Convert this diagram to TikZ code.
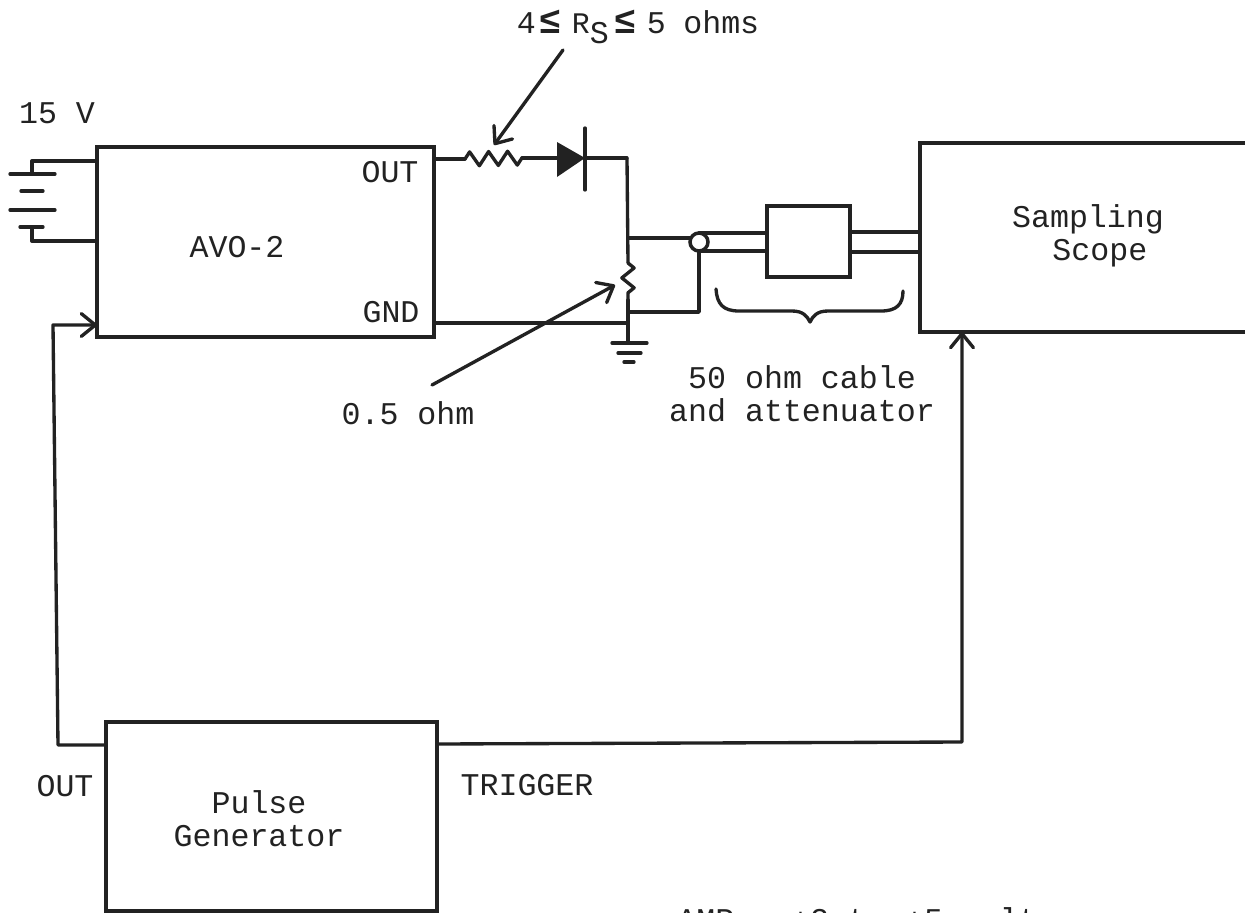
\documentclass[tikz,border=0pt]{standalone}
\usepackage{fontspec}
\setmainfont{Liberation Mono}
\usetikzlibrary{arrows.meta,decorations.pathmorphing}
\definecolor{ink}{HTML}{222222}
\tikzset{
    wire/.style={ink,line width=1.9pt,line cap=round,line join=round},
    unit/.style={draw=ink,line width=2.2pt,anchor=north west,inner sep=0pt,outer sep=0pt},
    txt/.style={ink,inner sep=0pt,font=\fontsize{18}{18.6}\selectfont,align=center},
    barb/.style={-{Straight Barb[length=8pt,width=13pt,line width=1.9pt,round]}},
    res/.style={decorate,decoration={zigzag,segment length=10.8pt,amplitude=4pt}},
    shunt/.style={decorate,decoration={zigzag,segment length=11.3pt,amplitude=3.5pt}}
}
\newcommand{\leqmark}{{\fontsize{21}{21}\selectfont\bfseries\symbol{"2264}}}
\begin{document}
\begin{tikzpicture}[x=0.02cm,y=-0.02cm]
    \path[use as bounding box,clip] (0,0) rectangle (1245,913);
    \fill[white] (0,0) rectangle (1245,913);
    % units
    \node[unit,minimum width=6.74cm,minimum height=3.8cm] (avo) at (97,147) {};
    \node[unit,minimum width=7cm,minimum height=3.78cm] (scope) at (920,143) {};
    \node[unit,minimum width=1.66cm,minimum height=1.42cm] (atten) at (767,206) {};
    \node[unit,minimum width=6.62cm,minimum height=3.78cm] (pulse) at (106,722) {};
    % battery
    \coordinate (battop) at (97,161);
    \coordinate (batbot) at (97,241);
    \draw[wire] (battop) -- (32,161) -- (32,174);
    \draw[wire] (10,174) -- (55,174);
    \draw[wire] (21,191) -- (43,191);
    \draw[wire] (10,210) -- (55,210);
    \draw[wire] (20,227) -- (43,227);
    \draw[wire] (32,227) -- (32,241) -- (batbot);
    % series resistor and diode
    \coordinate (outpin) at (434,159);
    \coordinate (rsa) at (465,159);
    \coordinate (rsb) at (522,158);
    \coordinate (dia) at (558,158);
    \coordinate (dib) at (585,158);
    \coordinate (top) at (627,158);
    \draw[wire] (outpin) -- (rsa);
    \draw[wire,res] (rsa) -- (rsb);
    \draw[wire] (rsb) -- (dia);
    \fill[ink] (557,142) -- (dib) -- (557,177) -- cycle;
    \draw[wire] (585,128) -- (585,190);
    \draw[wire] (dib) -- (top);
    % shunt resistor
    \coordinate (sha) at (628,263);
    \coordinate (shb) at (628,300);
    \coordinate (gndpin) at (434,323);
    \coordinate (gndpt) at (628,323);
    \coordinate (earth) at (628,343);
    \draw[wire] (top) -- (sha);
    \draw[wire,shunt] (sha) -- (shb);
    \draw[wire] (shb) -- (earth);
    \draw[wire] (gndpin) -- (gndpt);
    \draw[wire] (612,343) -- (647,343);
    \draw[wire] (618,353) -- (641,353);
    \draw[wire] (624,362) -- (634,362);
    % connector and cable
    \node[draw=ink,line width=2pt,circle,minimum size=0.36cm,inner sep=0pt,outer sep=0pt] (conn) at (699,242) {};
    \draw[wire] (628,238) -- (conn.west |- 0,238);
    \draw[wire] (628,312) -- (699,312) -- (conn.south);
    \draw[wire] (conn.north) -- (atten.west |- conn.north);
    \draw[wire] (conn.south) -- (atten.west |- conn.south);
    \draw[wire] (atten.east |- 0,232) -- (scope.west |- 0,232);
    \draw[wire] (atten.east |- 0,252) -- (scope.west |- 0,252);
    \draw[wire] (716,289) .. controls (717,304) and (723,311) .. (739,311)
        -- (792,311) .. controls (803,311) and (807,316) .. (810,322)
        .. controls (813,316) and (817,311) .. (828,311)
        -- (881,311) .. controls (897,311) and (903,304) .. (903,291);
    % trigger lines
    \draw[wire,barb] (pulse.west |- 0,745) -- (58,745) -- (53,325) -- (avo.west |- 0,325);
    \draw[wire,barb] (pulse.east |- 0,744) -- (962,742) -- (scope.south -| 962,0);
    % pointers
    \coordinate (rsfrom) at (563,50);
    \coordinate (rsto) at (494,145);
    \coordinate (shfrom) at (432,385);
    \coordinate (shto) at (615,285);
    \draw[wire,barb] (rsfrom) -- (rsto);
    \draw[wire,barb] (shfrom) -- (shto);
    % labels
    \node[txt] (rslabel) at (638,27) {4\hspace{2pt}\leqmark\hspace{6pt}{\fontsize{17}{18}\selectfont R}\raisebox{-0.3em}{S}\hspace{3pt}\leqmark\hspace{6pt}5\hspace{10pt}ohms};
    \node[txt] (batlabel) at (57,113) {15 V};
    \node[txt] (avolabel) at (237,247) {AVO-2};
    \node[txt] (outlabel) at (390,172) {OUT};
    \node[txt] (gndlabel) at (391,312) {GND};
    \node[txt] (shlabel) at (408,413) {0.5 ohm};
    \node[txt] (cablelabel) at (802,394) {50 ohm cable\\and attenuator};
    \node[txt] (scopelabel) at (1088,236) {Sampling\\\hspace*{0.75em}Scope};
    \node[txt] (genout) at (65,786) {OUT};
    \node[txt] (trigger) at (527,785) {TRIGGER};
    \node[txt] (pulselabel) at (259,819) {Pulse\\Generator};
    \node[txt,anchor=north west] (amp) at (677,907) {AMP:\ \ +2 to +5 volts};
\end{tikzpicture}
\end{document}
